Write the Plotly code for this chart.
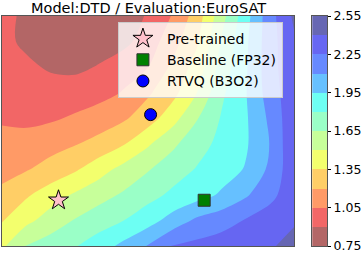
import plotly.graph_objects as go

# grid coordinates (arbitrary landscape units)
x_vals = list(range(13))
y_vals = list(range(10))

# loss values, rows from bottom (y=0) to top (y=9)
z_row0 = [1.47, 1.66, 1.72, 1.79, 1.88, 1.99, 2.11, 2.26, 2.29, 2.32, 2.35, 2.39, 2.43]
z_row1 = [1.34, 1.46, 1.57, 1.66, 1.73, 1.80, 1.89, 2.01, 2.13, 2.19, 2.26, 2.32, 2.39]
z_row2 = [1.23, 1.33, 1.43, 1.52, 1.60, 1.67, 1.75, 1.83, 1.89, 1.97, 2.08, 2.21, 2.34]
z_row3 = [1.16, 1.19, 1.25, 1.33, 1.44, 1.55, 1.64, 1.73, 1.81, 1.88, 1.96, 2.13, 2.36]
z_row4 = [1.10, 1.10, 1.15, 1.19, 1.25, 1.34, 1.48, 1.62, 1.74, 1.84, 1.93, 2.105, 2.38]
z_row5 = [1.03, 1.02, 1.03, 1.07, 1.12, 1.18, 1.28, 1.44, 1.64, 1.81, 1.93, 2.13, 2.37]
z_row6 = [1.01, 0.98, 0.97, 0.97, 1.00, 1.06, 1.18, 1.30, 1.50, 1.77, 1.94, 2.17, 2.36]
z_row7 = [0.98, 0.93, 0.88, 0.87, 0.91, 0.99, 1.05, 1.23, 1.41, 1.71, 1.93, 2.19, 2.37]
z_row8 = [0.94, 0.87, 0.84, 0.83, 0.84, 0.86, 0.97, 1.14, 1.33, 1.66, 1.92, 2.19, 2.38]
z_row9 = [0.93, 0.88, 0.85, 0.84, 0.84, 0.85, 0.91, 1.06, 1.27, 1.59, 1.89, 2.19, 2.43]

# contour levels
level_start = 0.75
level_end = 2.55
level_step = 0.15
levels = [0.75, 0.90, 1.05, 1.20, 1.35, 1.50, 1.65, 1.80, 1.95, 2.10, 2.25, 2.40, 2.55]
tick_vals = [0.75, 1.05, 1.35, 1.65, 1.95, 2.25, 2.55]
tick_text = ["0.75", "1.05", "1.35", "1.65", "1.95", "2.25", "2.55"]

# band colours (jet_r, alpha 0.6 over white), lowest band first
band_colors = ["#b36666", "#f26666", "#ff9a66", "#ffce66", "#f3ff6d", "#c7ff9a",
               "#9affc7", "#6dfff3", "#66c0ff", "#6689ff", "#6666f2", "#6666b3"]

# marker points
point_names = ["Pre-trained", "Baseline (FP32)", "RTVQ (B3O2)"]
point_x = [2.32, 8.30, 6.10]
point_y = [1.79, 1.79, 5.14]

title_text = "Model:DTD / Evaluation:EuroSAT"

z = [z_row0, z_row1, z_row2, z_row3, z_row4, z_row5,
     z_row6, z_row7, z_row8, z_row9]

n_bands = len(band_colors)
# contour fill colour for the band above level k is sampled at position (k+1)/(n+1)
contour_scale = [[0.0, band_colors[0]]]
for k, c in enumerate(band_colors):
    contour_scale.append([(k + 1) / (n_bands + 1), c])
contour_scale.append([1.0, band_colors[-1]])

# colorbar drawn as a one-column heatmap, one cell per band
bar_scale = [[k / (n_bands - 1), c] for k, c in enumerate(band_colors)]
bar_z = [[k] for k in range(n_bands)]

FONT = "DejaVu Sans"
W, H = 363, 255
ML, MR, MT, MB = 2, 33, 16, 8
paper_w = W - ML - MR
plot_right = 297
bar_left, bar_right = 315, 330

fig = go.Figure()
fig.add_trace(go.Contour(
    x=x_vals, y=y_vals, z=z,
    autocontour=False,
    contours=dict(start=level_start, end=level_end, size=level_step, coloring="fill"),
    colorscale=contour_scale,
    line=dict(width=0, smoothing=1),
    showscale=False, showlegend=False, hoverinfo="skip",
))

fig.add_trace(go.Heatmap(
    x=[0, 1], y=levels, z=bar_z,
    colorscale=bar_scale, zmin=0, zmax=n_bands - 1,
    showscale=False, hoverinfo="skip",
    xaxis="x2", yaxis="y2",
))

styles = [
    dict(symbol="star", size=15, color="pink", line=dict(color="black", width=1)),
    dict(symbol="square", size=12, color="green", line=dict(color="#333", width=1)),
    dict(symbol="circle", size=12, color="blue", line=dict(color="black", width=1)),
]
for name, px, py, st in zip(point_names, point_x, point_y, styles):
    fig.add_trace(go.Scatter(x=[px], y=[py], mode="markers", name=name,
                             marker=st, hoverinfo="skip"))

axis_common = dict(showgrid=False, zeroline=False, showline=True, mirror=True,
                   linecolor="#555", linewidth=1)

fig.update_layout(
    width=W, height=H,
    margin=dict(l=ML, r=MR, t=MT, b=MB),
    paper_bgcolor="white", plot_bgcolor="white",
    xaxis=dict(domain=[0, (plot_right - ML) / paper_w], range=[0, 12],
               showticklabels=False, ticks="", **axis_common),
    yaxis=dict(range=[0, 9], showticklabels=False, ticks="", **axis_common),
    xaxis2=dict(domain=[(bar_left - ML) / paper_w, (bar_right - ML) / paper_w],
                range=[0, 1], anchor="y2", showticklabels=False, ticks="", **axis_common),
    yaxis2=dict(anchor="x2", side="right", range=[level_start, level_end],
                tickvals=tick_vals, ticktext=tick_text, ticks="outside", ticklen=3,
                tickwidth=1, tickcolor="#000",
                tickfont=dict(family=FONT, size=12.5, color="#000"), **axis_common),
    legend=dict(x=(119 - ML) / paper_w, y=(247 - 22) / 231, xanchor="left", yanchor="top",
                itemwidth=38,
                bgcolor="rgba(255,255,255,0.8)", bordercolor="#cccccc", borderwidth=1,
                font=dict(family=FONT, size=14, color="#000")),
    annotations=[dict(text=title_text, x=0.5, y=1, xref="x domain", yref="y domain",
                      xanchor="center", yanchor="bottom", yshift=-2, showarrow=False,
                      font=dict(family=FONT, size=14.5, color="#000"))],
    font=dict(family=FONT),
)

fig.write_html("out.html", config={"displayModeBar": False},
               post_script="document.body.style.margin='0';")
